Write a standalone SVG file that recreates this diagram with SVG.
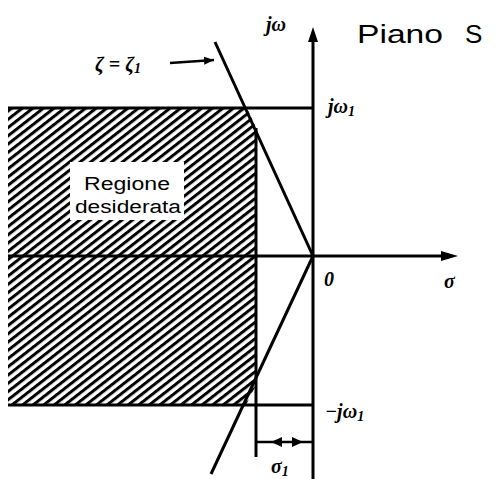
<svg xmlns="http://www.w3.org/2000/svg" width="500" height="479" viewBox="0 0 500 479">
<style>
.ln{stroke:#000;stroke-width:3;fill:none;stroke-linecap:butt}
.thin{stroke:#000;stroke-width:2.5;fill:none}
.it{font-family:"Liberation Serif",serif;font-style:italic;font-weight:bold;fill:#000}
.sans{font-family:"Liberation Sans",Arial,sans-serif;fill:#000}
</style>
<defs>
<pattern id="hatch" patternUnits="userSpaceOnUse" width="6.5" height="6.5" patternTransform="rotate(-38)">
<rect width="6.5" height="6.5" fill="#fff"/>
<rect width="6.5" height="3" y="0" fill="#000"/>
</pattern>
<marker id="ah" viewBox="0 0 10 10" refX="10" refY="5" markerWidth="10" markerHeight="10" markerUnits="userSpaceOnUse" orient="auto">
<path d="M0,1 L10,5 L0,9 Z" fill="#000"/>
</marker>
</defs>
<g id="region">
<polygon points="8,108 247,108 257,130 257,383 246,405 8,405" fill="url(#hatch)"/>
<rect x="70" y="162" width="114" height="58" fill="#fff"/>
<text class="sans" x="127" y="190" font-size="18" text-anchor="middle" textLength="86" lengthAdjust="spacingAndGlyphs">Regione</text>
<text class="sans" x="128" y="213" font-size="18" text-anchor="middle" textLength="106" lengthAdjust="spacingAndGlyphs">desiderata</text>
</g>
<g id="connectors">
<line class="ln" x1="313" y1="40" x2="313" y2="479"/>
<polygon points="313,27 308,42 318,42" fill="#000"/>
<line class="ln" x1="8" y1="256" x2="444" y2="256"/>
<polygon points="458,256 441,251 441,261" fill="#000"/>
<line class="ln" x1="8" y1="108" x2="313" y2="108"/>
<line class="ln" x1="8" y1="405" x2="313" y2="405"/>
<line class="ln" x1="256" y1="128" x2="256" y2="457"/>
<line class="ln" x1="215" y1="42" x2="313" y2="256"/>
<line class="ln" x1="313" y1="256" x2="211" y2="474"/>
<line class="thin" x1="256" y1="442" x2="312" y2="442"/>
<polygon points="271,442 282,437 282,447" fill="#000"/>
<polygon points="303,442 292,437 292,447" fill="#000"/>
<line class="thin" x1="170" y1="63" x2="214" y2="60" marker-end="url(#ah)"/>
</g>
<g id="labels">
<text class="it" x="95" y="71" font-size="20">ζ = ζ<tspan font-size="14" dy="2">1</tspan></text>
<text class="it" x="266" y="31" font-size="20">jω</text>
<text class="sans" x="357" y="43" font-size="26" textLength="86" lengthAdjust="spacingAndGlyphs">Piano</text>
<text class="sans" x="465" y="43" font-size="26">S</text>
<text class="it" x="328" y="113" font-size="20">jω<tspan font-size="14" dy="3">1</tspan></text>
<text class="it" x="324" y="286" font-size="20">0</text>
<text class="it" x="444" y="288" font-size="20">σ</text>
<text class="it" x="325" y="418" font-size="20">−jω<tspan font-size="14" dy="3">1</tspan></text>
<text class="it" x="271" y="473" font-size="20">σ<tspan font-size="14" dy="3">1</tspan></text>
</g>
</svg>
